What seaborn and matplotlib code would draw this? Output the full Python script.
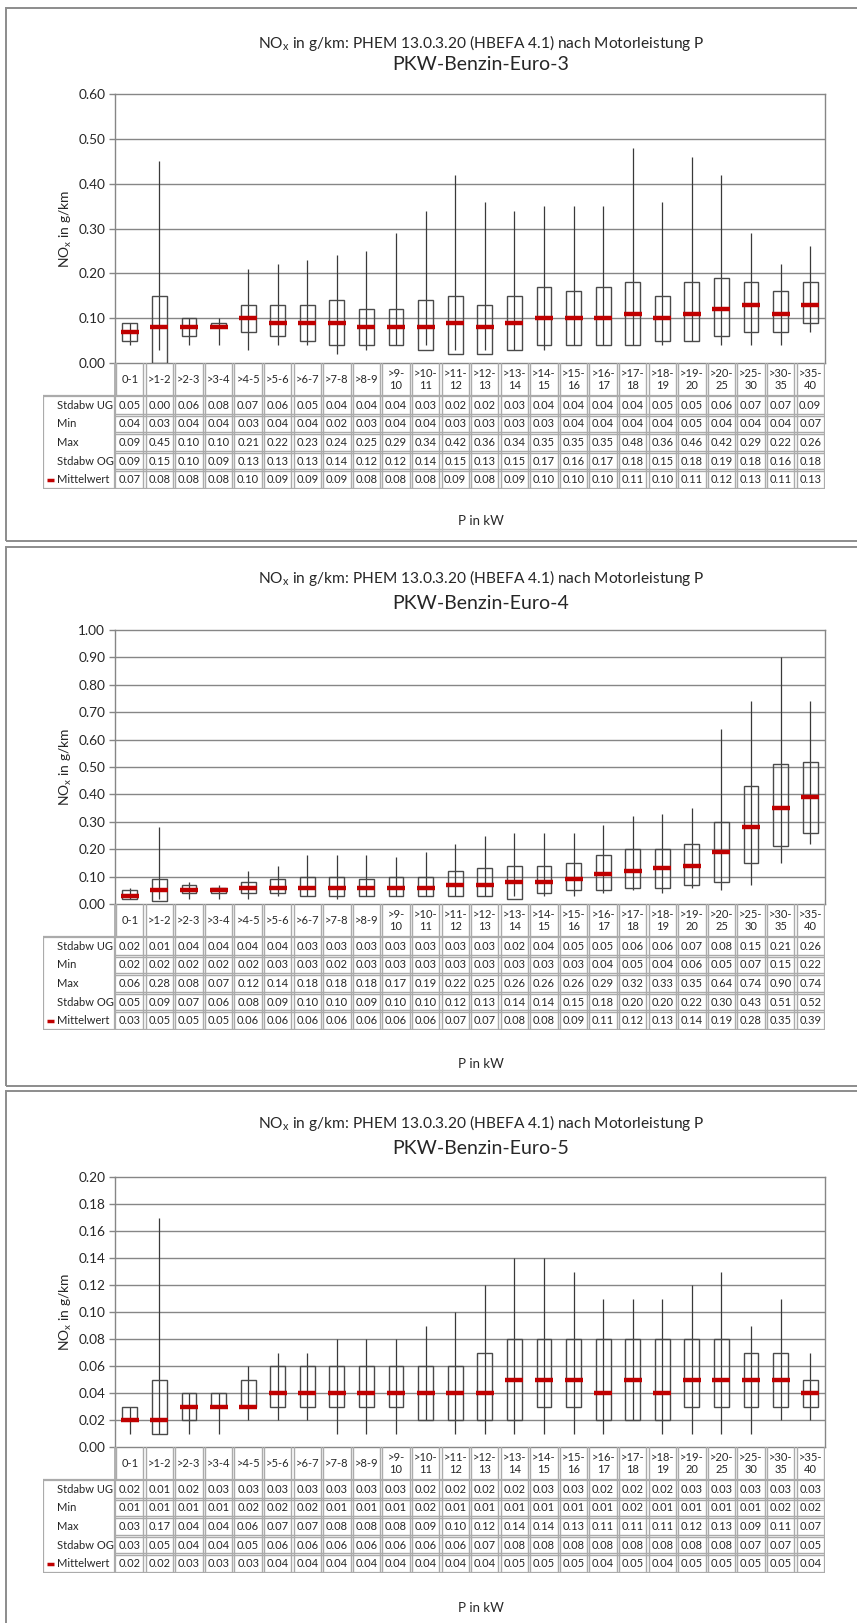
import matplotlib
matplotlib.use("Agg")
import matplotlib.pyplot as plt
from matplotlib.patches import Rectangle
import seaborn as sns

# ---------------------------------------------------------------- data
categories = ["0-1", ">1-2", ">2-3", ">3-4", ">4-5", ">5-6", ">6-7", ">7-8",
              ">8-9", ">9-10", ">10-11", ">11-12", ">12-13", ">13-14",
              ">14-15", ">15-16", ">16-17", ">17-18", ">18-19", ">19-20",
              ">20-25", ">25-30", ">30-35", ">35-40"]

row_names = ["Stdabw UG", "Min", "Max", "Stdabw OG", "Mittelwert"]

e3_sd_low = [0.05, 0.00, 0.06, 0.08, 0.07, 0.06, 0.05, 0.04, 0.04, 0.04, 0.03, 0.02,
             0.02, 0.03, 0.04, 0.04, 0.04, 0.04, 0.05, 0.05, 0.06, 0.07, 0.07, 0.09]
e3_min = [0.04, 0.03, 0.04, 0.04, 0.03, 0.04, 0.04, 0.02, 0.03, 0.04, 0.04, 0.03,
          0.03, 0.03, 0.03, 0.04, 0.04, 0.04, 0.04, 0.05, 0.04, 0.04, 0.04, 0.07]
e3_max = [0.09, 0.45, 0.10, 0.10, 0.21, 0.22, 0.23, 0.24, 0.25, 0.29, 0.34, 0.42,
          0.36, 0.34, 0.35, 0.35, 0.35, 0.48, 0.36, 0.46, 0.42, 0.29, 0.22, 0.26]
e3_sd_high = [0.09, 0.15, 0.10, 0.09, 0.13, 0.13, 0.13, 0.14, 0.12, 0.12, 0.14, 0.15,
              0.13, 0.15, 0.17, 0.16, 0.17, 0.18, 0.15, 0.18, 0.19, 0.18, 0.16, 0.18]
e3_mean = [0.07, 0.08, 0.08, 0.08, 0.10, 0.09, 0.09, 0.09, 0.08, 0.08, 0.08, 0.09,
           0.08, 0.09, 0.10, 0.10, 0.10, 0.11, 0.10, 0.11, 0.12, 0.13, 0.11, 0.13]

e4_sd_low = [0.02, 0.01, 0.04, 0.04, 0.04, 0.04, 0.03, 0.03, 0.03, 0.03, 0.03, 0.03,
             0.03, 0.02, 0.04, 0.05, 0.05, 0.06, 0.06, 0.07, 0.08, 0.15, 0.21, 0.26]
e4_min = [0.02, 0.02, 0.02, 0.02, 0.02, 0.03, 0.03, 0.02, 0.03, 0.03, 0.03, 0.03,
          0.03, 0.03, 0.03, 0.03, 0.04, 0.05, 0.04, 0.06, 0.05, 0.07, 0.15, 0.22]
e4_max = [0.06, 0.28, 0.08, 0.07, 0.12, 0.14, 0.18, 0.18, 0.18, 0.17, 0.19, 0.22,
          0.25, 0.26, 0.26, 0.26, 0.29, 0.32, 0.33, 0.35, 0.64, 0.74, 0.90, 0.74]
e4_sd_high = [0.05, 0.09, 0.07, 0.06, 0.08, 0.09, 0.10, 0.10, 0.09, 0.10, 0.10, 0.12,
              0.13, 0.14, 0.14, 0.15, 0.18, 0.20, 0.20, 0.22, 0.30, 0.43, 0.51, 0.52]
e4_mean = [0.03, 0.05, 0.05, 0.05, 0.06, 0.06, 0.06, 0.06, 0.06, 0.06, 0.06, 0.07,
           0.07, 0.08, 0.08, 0.09, 0.11, 0.12, 0.13, 0.14, 0.19, 0.28, 0.35, 0.39]

e5_sd_low = [0.02, 0.01, 0.02, 0.03, 0.03, 0.03, 0.03, 0.03, 0.03, 0.03, 0.02, 0.02,
             0.02, 0.02, 0.03, 0.03, 0.02, 0.02, 0.02, 0.03, 0.03, 0.03, 0.03, 0.03]
e5_min = [0.01, 0.01, 0.01, 0.01, 0.02, 0.02, 0.02, 0.01, 0.01, 0.01, 0.02, 0.01,
          0.01, 0.01, 0.01, 0.01, 0.01, 0.02, 0.01, 0.01, 0.01, 0.01, 0.02, 0.02]
e5_max = [0.03, 0.17, 0.04, 0.04, 0.06, 0.07, 0.07, 0.08, 0.08, 0.08, 0.09, 0.10,
          0.12, 0.14, 0.14, 0.13, 0.11, 0.11, 0.11, 0.12, 0.13, 0.09, 0.11, 0.07]
e5_sd_high = [0.03, 0.05, 0.04, 0.04, 0.05, 0.06, 0.06, 0.06, 0.06, 0.06, 0.06, 0.06,
              0.07, 0.08, 0.08, 0.08, 0.08, 0.08, 0.08, 0.08, 0.08, 0.07, 0.07, 0.05]
e5_mean = [0.02, 0.02, 0.03, 0.03, 0.03, 0.04, 0.04, 0.04, 0.04, 0.04, 0.04, 0.04,
           0.04, 0.05, 0.05, 0.05, 0.04, 0.05, 0.04, 0.05, 0.05, 0.05, 0.05, 0.04]

e3_ticks = [0.0, 0.1, 0.2, 0.3, 0.4, 0.5, 0.6]
e4_ticks = [0.0, 0.1, 0.2, 0.3, 0.4, 0.5, 0.6, 0.7, 0.8, 0.9, 1.0]
e5_ticks = [0.0, 0.02, 0.04, 0.06, 0.08, 0.10, 0.12, 0.14, 0.16, 0.18, 0.20]

title_main = "NO$_\\mathregular{x}$ in g/km: PHEM 13.0.3.20 (HBEFA 4.1) nach Motorleistung P"
ylabel_txt = "NO$_\\mathregular{x}$ in g/km"
xlabel_txt = "P in kW"

panels = [
    dict(sub="PKW-Benzin-Euro-3", ticks=e3_ticks, lo=e3_sd_low, mn=e3_min, mx=e3_max,
         hi=e3_sd_high, mean=e3_mean, top=8, bottom=541, t1=43, t2=65,
         ptop=94, pbot=363, tbot=489, xl=521),
    dict(sub="PKW-Benzin-Euro-4", ticks=e4_ticks, lo=e4_sd_low, mn=e4_min, mx=e4_max,
         hi=e4_sd_high, mean=e4_mean, top=547, bottom=1086, t1=578, t2=603,
         ptop=630, pbot=904, tbot=1030, xl=1064),
    dict(sub="PKW-Benzin-Euro-5", ticks=e5_ticks, lo=e5_sd_low, mn=e5_min, mx=e5_max,
         hi=e5_sd_high, mean=e5_mean, top=1091, bottom=1640, t1=1123, t2=1148,
         ptop=1177, pbot=1447, tbot=1573, xl=1608),
]

# ---------------------------------------------------------------- style
sns.set_theme(style="white")
plt.rcParams["font.family"] = ["Lato", "DejaVu Sans"]
plt.rcParams["mathtext.fontset"] = "custom"
plt.rcParams["mathtext.rm"] = "Lato"
plt.rcParams["mathtext.it"] = "Lato:italic"

W, H = 857, 1623
fig = plt.figure(figsize=(W / 100, H / 100), dpi=100)
fig.patch.set_facecolor("white")

TXT = "#262626"
GRID = "#868686"
CELL = "#ababab"
RED = "#c00000"

X0, X1 = 115, 825          # data columns (pixels)
LEG0 = 43                  # left edge of the row-label column
COLW = (X1 - X0) / len(categories)
HDR = 33                   # header row height in pixels


def fx(px):
    return px / W


def fy(py):
    return 1 - py / H


def cat_label(c):
    return c.replace("-", "-\n", 1) if len(c) >= 5 else c


n = len(categories)
xpos = list(range(n))

for p in panels:
    # frame around the panel
    fig.add_artist(Rectangle((fx(6), fy(p["bottom"])), fx(W + 20), (p["bottom"] - p["top"]) / H,
                             transform=fig.transFigure, fill=False, ec="#8c8c8c", lw=1.4))
    fig.text(fx(481), fy(p["t1"]), title_main, ha="center", va="center",
             fontsize=11.2, color=TXT)
    fig.text(fx(481), fy(p["t2"]), p["sub"], ha="center", va="center",
             fontsize=14, color=TXT)

    # ---------------- box chart
    ax = fig.add_axes([fx(X0), fy(p["pbot"]), (X1 - X0) / W, (p["pbot"] - p["ptop"]) / H])
    ax.set_xlim(-0.5, n - 0.5)
    ticks = p["ticks"]
    ax.set_ylim(ticks[0], ticks[-1])
    ax.set_yticks(ticks)
    ax.set_yticklabels([f"{t:.2f}" for t in ticks], fontsize=9.8, color=TXT)
    ax.set_xticks([])
    ax.tick_params(axis="y", which="both", left=True, length=4, width=1,
                   color=GRID, pad=3)
    for t in ticks[1:-1]:
        ax.axhline(t, color=GRID, lw=1, zorder=0)
    for s in ax.spines.values():
        s.set_color(GRID)
        s.set_linewidth(1)

    ax.vlines(xpos, p["mn"], p["mx"], color="#3a3a3a", lw=0.9, zorder=2)
    heights = [h - l for h, l in zip(p["hi"], p["lo"])]
    ax.bar(xpos, heights, bottom=p["lo"], width=0.5, fill=False,
           edgecolor="#4a4a4a", lw=1.0, zorder=3)
    sns.scatterplot(x=xpos, y=p["mean"], marker="_", s=150, linewidth=3.2,
                    color=RED, ax=ax, legend=False, zorder=5)
    ax.set_xlabel("")
    ax.set_ylabel(ylabel_txt, fontsize=10, color=TXT, labelpad=3)

    # ---------------- data table
    tb = p["tbot"] - p["pbot"]
    tax = fig.add_axes([fx(LEG0), fy(p["tbot"]), (X1 - LEG0) / W, tb / H])
    left = -0.5 - (X0 - LEG0) / COLW
    tax.set_xlim(left, n - 0.5)
    tax.set_ylim(tb, 0)
    tax.axis("off")
    rowh = (tb - HDR) / len(row_names)
    dx = 1.1 / COLW

    # header cells with category names
    for i in range(n + 1):
        xb = i - 0.5
        for off in (-dx, dx):
            if (i == 0 and off < 0) or (i == n and off > 0):
                continue
            tax.plot([xb + off, xb + off], [0, HDR - 1], color=CELL, lw=1)
    tax.plot([-0.5, -0.5], [0, HDR], color=CELL, lw=1.3)
    tax.plot([n - 0.5, n - 0.5], [0, HDR], color=CELL, lw=1.3)
    for i, c in enumerate(categories):
        tax.text(i, HDR / 2, cat_label(c), ha="center", va="center",
                 fontsize=8, color=TXT, linespacing=1.2)

    # body rows
    tax.plot([left, n - 0.5, n - 0.5, left, left],
             [HDR, HDR, tb, tb, HDR], color=CELL, lw=1.6)
    tax.plot([-0.5, -0.5], [HDR, tb], color=CELL, lw=1.6)
    for i in range(1, n):
        for off in (-dx, dx):
            tax.plot([i - 0.5 + off] * 2, [HDR, tb], color=CELL, lw=1)
    for r in range(1, len(row_names)):
        yb = HDR + r * rowh
        for off in (-1, 1):
            tax.plot([-0.5, n - 0.5], [yb + off, yb + off], color=CELL, lw=1)

    values = [p["lo"], p["mn"], p["mx"], p["hi"], p["mean"]]
    for r, (name, vals) in enumerate(zip(row_names, values)):
        yc = HDR + (r + 0.5) * rowh
        tax.text(left + 14 / COLW, yc, name, ha="left", va="center",
                 fontsize=8, color=TXT)
        for i, v in enumerate(vals):
            tax.text(i, yc, f"{v:.2f}", ha="center", va="center",
                     fontsize=8, color=TXT)
    yc = HDR + 4.5 * rowh
    tax.plot([left + 4 / COLW, left + 11 / COLW], [yc, yc], color=RED, lw=2.5,
             solid_capstyle="butt")

    fig.text(fx(481), fy(p["xl"]), xlabel_txt, ha="center", va="center",
             fontsize=9.5, color=TXT)

fig.savefig("out.png", dpi=100, facecolor="white")
